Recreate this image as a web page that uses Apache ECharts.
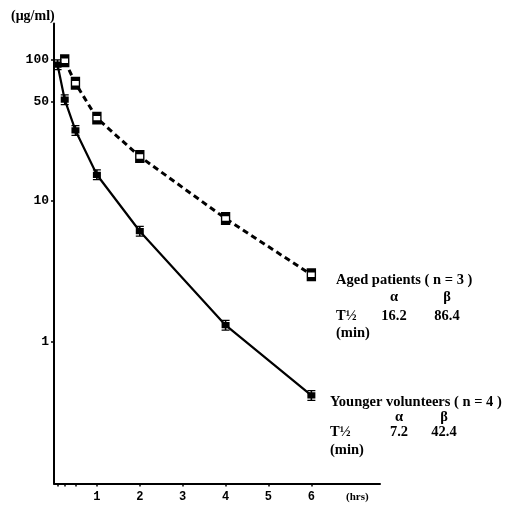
<!DOCTYPE html>
<html>
<head>
<meta charset="utf-8">
<script src="https://cdn.jsdelivr.net/npm/echarts@6/dist/echarts.min.js"></script>
<style>
  html, body { margin: 0; padding: 0; background: #fff; }
  #chart { width: 514px; height: 510px; }
</style>
</head>
<body>
<div id="chart"></div>
<script>
// Plasma concentration (µg/ml) versus time (hrs), semi-log plot
const youngTimes = [0.083, 0.25, 0.5, 1, 2, 4, 6];
const youngConc = [92, 52, 31.5, 15.3, 6.1, 1.32, 0.42];
const agedTimes = [0.25, 0.5, 1, 2, 4, 6];
const agedConc = [98, 68, 38.5, 20.6, 7.5, 3.0];

const yTickValues = [1, 10, 50, 100];
const xLabelValues = [1, 2, 3, 4, 5, 6];
const xTickValues = [1 / 12, 0.25, 0.5, 1, 2, 3, 4, 5, 6];

const agedLines = ['Aged patients ( n = 3 )', 'α', 'β', 'T½', '16.2', '86.4', '(min)'];
const youngLines = ['Younger volunteers ( n = 4 )', 'α', 'β', 'T½', '7.2', '42.4', '(min)'];

const serif = '"Liberation Serif", "DejaVu Serif", serif';
const mono = '"Liberation Mono", "DejaVu Sans Mono", monospace';

// marker with small error-bar caps above and below a square
const capSquare = 'path://M1,0H9V1.6H1Z M4.2,1.6H5.8V3H4.2Z M1,3H9V11H1Z M4.2,11H5.8V12.4H4.2Z M1,12.4H9V14H1Z';

const pair = (xs, ys) => xs.map((x, i) => [x, ys[i]]);

function noteBlock(lines, x0, yTitle, alphaX, betaX, rowGap, size) {
  const style = (text, x, y, align) => ({
    type: 'text', x: x, y: y,
    style: { text: text, font: 'bold ' + size + 'px ' + serif, fill: '#000', align: align || 'left', verticalAlign: 'middle' }
  });
  return [
    style(lines[0], x0, yTitle),
    style(lines[1], alphaX, yTitle + rowGap[0], 'center'),
    style(lines[2], betaX, yTitle + rowGap[0], 'center'),
    style(lines[3], x0, yTitle + rowGap[1]),
    style(lines[4], alphaX, yTitle + rowGap[1], 'center'),
    style(lines[5], betaX, yTitle + rowGap[1], 'center'),
    style(lines[6], x0, yTitle + rowGap[2])
  ];
}

const chart = echarts.init(document.getElementById('chart'), null, { renderer: 'canvas' });

chart.setOption({
  animation: false,
  backgroundColor: '#fff',
  grid: { left: 54, right: 134, top: 23.5, bottom: 26.5 },
  xAxis: {
    type: 'value',
    min: 0,
    max: 7.6,
    splitLine: { show: false },
    axisLine: { lineStyle: { color: '#000', width: 2 } },
    axisTick: { show: true, length: 3, customValues: xTickValues, lineStyle: { color: '#000', width: 1.5 } },
    axisLabel: {
      customValues: xLabelValues, margin: 7,
      color: '#000', fontFamily: mono, fontWeight: 'bold', fontSize: 12
    }
  },
  yAxis: {
    type: 'log',
    logBase: 10,
    min: 0.1,
    max: 180,
    splitLine: { show: false },
    axisLine: { show: true, lineStyle: { color: '#000', width: 2 } },
    axisTick: { show: true, length: 3, customValues: yTickValues, lineStyle: { color: '#000', width: 1.5 } },
    axisLabel: {
      customValues: yTickValues, margin: 5,
      color: '#000', fontFamily: mono, fontWeight: 'bold', fontSize: 13
    }
  },
  series: [
    {
      name: 'Younger volunteers',
      type: 'line',
      data: pair(youngTimes, youngConc),
      symbol: capSquare,
      symbolSize: [8, 11],
      lineStyle: { color: '#000', width: 2.2, type: 'solid' },
      itemStyle: { color: '#000' },
      z: 3
    },
    {
      name: 'Aged patients',
      type: 'line',
      data: pair(agedTimes, agedConc),
      symbol: capSquare,
      symbolSize: [8, 11],
      lineStyle: { color: '#000', width: 3, type: [6, 4] },
      itemStyle: { color: '#fff', borderColor: '#000', borderWidth: 1.6 },
      z: 2
    }
  ],
  graphic: [
    {
      type: 'text', x: 11, y: 16,
      style: { text: '(μg/ml)', font: 'bold 14px ' + serif, fill: '#000', verticalAlign: 'middle' }
    },
    {
      type: 'text', x: 346, y: 497,
      style: { text: '(hrs)', font: 'bold 11px ' + serif, fill: '#000', verticalAlign: 'middle' }
    }
  ]
    .concat(noteBlock(agedLines, 336, 280, 394, 447, [17, 36, 53], 14.5))
    .concat(noteBlock(youngLines, 330, 402, 399, 444, [15, 30, 48], 14.5))
});
</script>
</body>
</html>
